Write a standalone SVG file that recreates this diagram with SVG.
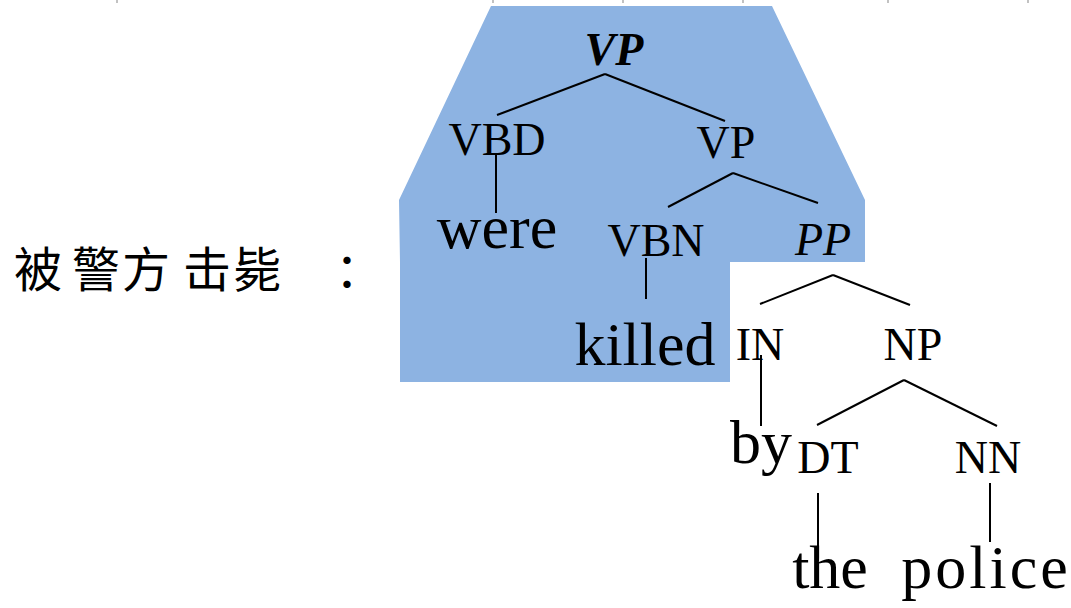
<svg xmlns="http://www.w3.org/2000/svg" width="1071" height="608" viewBox="0 0 1071 608">
<style>
.lbl{font-family:"Liberation Serif","Times New Roman",serif;font-size:46px;fill:#000;text-anchor:middle}
.word{font-family:"Liberation Serif","Times New Roman",serif;font-size:62px;fill:#000;text-anchor:middle}
.cjk{font-family:"Liberation Serif","Noto Sans CJK SC",sans-serif;font-size:48px;fill:#000}
.edge{stroke:#000;stroke-width:2;fill:none}
.tick{stroke:#999;stroke-width:1.2}
</style>
<rect width="1071" height="608" fill="#fff"/>
<g id="ticks">
<line class="tick" x1="117" y1="0" x2="117" y2="3"/>
<line class="tick" x1="493" y1="0" x2="493" y2="3"/>
<line class="tick" x1="623" y1="0" x2="623" y2="3"/>
<line class="tick" x1="743" y1="0" x2="743" y2="3"/>
<line class="tick" x1="888" y1="0" x2="888" y2="3"/>
<line class="tick" x1="1028" y1="0" x2="1028" y2="3"/>
</g>
<g id="highlight">
<polygon points="491,6 772,6 865,200 865,262 730,262 730,382 400,382 400,262 399,200" fill="#8DB3E2"/>
</g>
<g id="chinese">
<text class="cjk" y="287"><tspan x="14">被</tspan> <tspan x="72">警</tspan><tspan x="122">方</tspan> <tspan x="183">击</tspan><tspan x="233">毙</tspan> <tspan x="335">：</tspan></text>
</g>
<g id="connectors">
<line class="edge" x1="605" y1="74" x2="497" y2="115"/>
<line class="edge" x1="605" y1="74" x2="725" y2="121"/>
<line class="edge" x1="496" y1="155" x2="496" y2="213"/>
<line class="edge" x1="733" y1="173" x2="668" y2="207"/>
<line class="edge" x1="733" y1="173" x2="818" y2="203"/>
<line class="edge" x1="646" y1="258" x2="646" y2="299"/>
<line class="edge" x1="833" y1="275" x2="760" y2="304"/>
<line class="edge" x1="833" y1="275" x2="910" y2="305"/>
<line class="edge" x1="761" y1="355" x2="761" y2="426"/>
<line class="edge" x1="904" y1="380" x2="817" y2="425"/>
<line class="edge" x1="904" y1="380" x2="997" y2="426"/>
<line class="edge" x1="818" y1="493" x2="818" y2="552"/>
<line class="edge" x1="990" y1="483" x2="990" y2="542"/>
</g>
<g id="n-VP-top"><text class="lbl" x="614" y="65" font-weight="bold" font-style="italic">VP</text></g>
<g id="n-VBD"><text class="lbl" x="497" y="155">VBD</text></g>
<g id="n-VP"><text class="lbl" x="726" y="158">VP</text></g>
<g id="n-were"><text class="word" x="497" y="248">were</text></g>
<g id="n-VBN"><text class="lbl" x="656" y="256">VBN</text></g>
<g id="n-PP"><text class="lbl" x="823" y="255" font-style="italic">PP</text></g>
<g id="n-killed"><text class="word" x="645" y="365">killed</text></g>
<g id="n-IN"><text class="lbl" x="760" y="360">IN</text></g>
<g id="n-NP"><text class="lbl" x="913" y="360">NP</text></g>
<g id="n-by"><text class="word" x="761" y="463">by</text></g>
<g id="n-DT"><text class="lbl" x="828" y="473">DT</text></g>
<g id="n-NN"><text class="lbl" x="988" y="473">NN</text></g>
<g id="n-the"><text class="word" x="830" y="588">the</text></g>
<g id="n-police"><text class="word" x="986" y="588" font-size="66" letter-spacing="3">police</text></g>
</svg>
